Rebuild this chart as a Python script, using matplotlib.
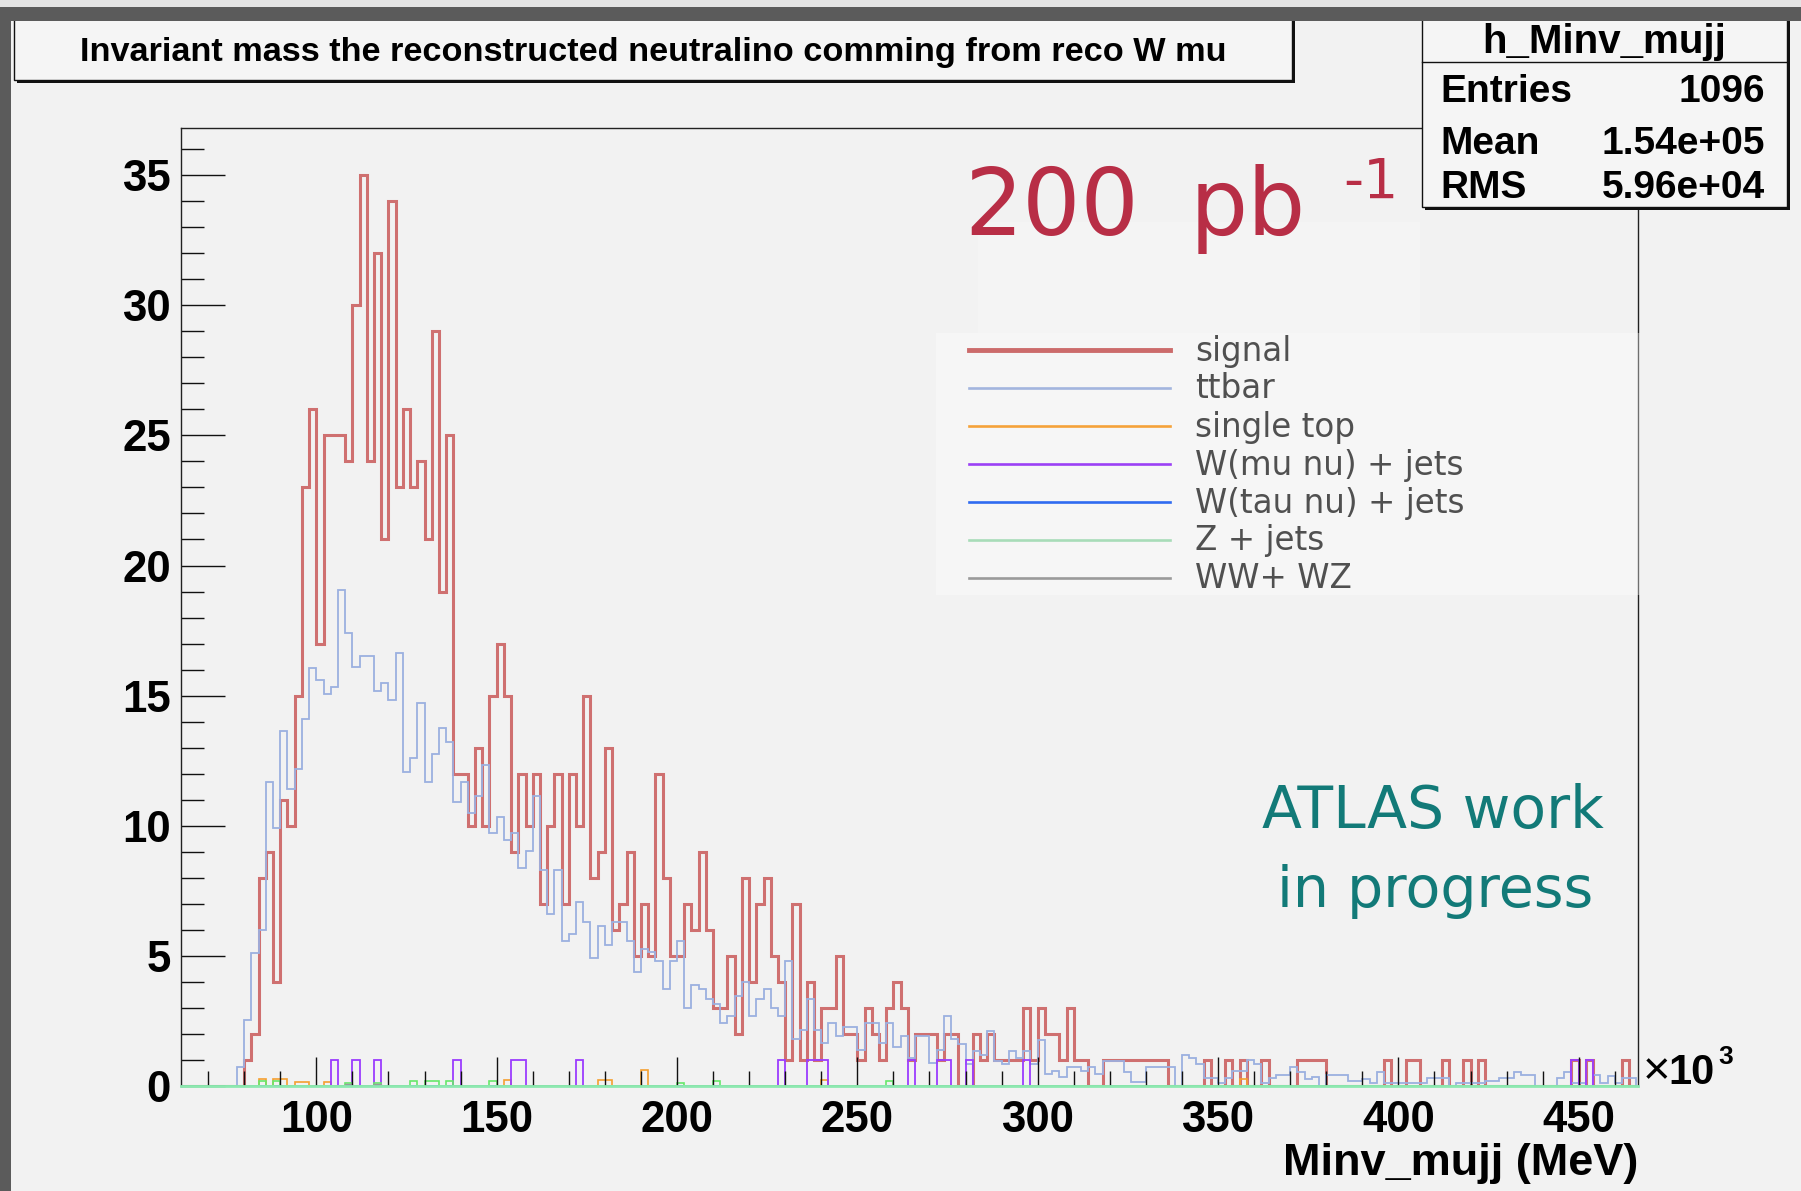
import numpy as np
import matplotlib
matplotlib.use("Agg")
import matplotlib.pyplot as plt
from matplotlib.patches import Rectangle
from matplotlib.lines import Line2D
from matplotlib.ticker import MultipleLocator, FixedLocator

# ---------------- data (x in units of 10^3 MeV, 2 GeV bins) ----------------
FIRST_EDGE = 62
BIN_WIDTH = 2
N_BINS = 202

signal_start = 80
signal = [1, 2, 8, 9, 4, 11, 10, 15, 23, 26,
          17, 25, 25, 25, 24, 30, 35, 24, 32, 21,
          34, 23, 26, 23, 24, 21, 29, 19, 25, 12,
          12, 10, 13, 10, 15, 17, 15, 9, 12, 10,
          12, 7, 10, 12, 7, 12, 10, 15, 8, 9,
          13, 6, 7, 9, 5, 7, 5, 12, 8, 5,
          5, 7, 6, 9, 6, 3, 3, 5, 2, 8,
          4, 7, 8, 5, 4, 1, 7, 1, 4, 1,
          3, 3, 5, 2, 2, 1, 3, 2, 1, 3,
          4, 3, 1, 2, 2, 2, 1, 2, 2, 0,
          0, 2, 1, 2, 1, 1, 1, 1, 3, 1,
          3, 2, 2, 1, 3, 1, 1, 0, 0, 1,
          1, 1, 1, 1, 1, 1, 1, 1, 0, 0,
          0, 0, 0, 1, 0, 0, 1, 0, 1, 0,
          0, 1, 0, 0, 0, 0, 1, 1, 1, 1,
          0, 0, 0, 0, 0, 0, 0, 0, 1, 0,
          0, 1, 1, 0, 0, 0, 1, 0, 0, 1,
          0, 1, 0, 0, 0, 0, 0, 0, 0, 0,
          0, 0, 0, 0, 1, 0, 1, 0, 0, 0,
          0, 1, 0]

ttbar_start = 78
ttbar = [0.74, 2.55, 5.12, 5.99, 11.69, 9.9, 13.65, 11.42, 12.18, 14.12,
         16.06, 15.6, 15.06, 15.33, 19.07, 17.41, 16.09, 16.52, 16.52, 15.17,
         15.47, 14.82, 16.64, 12.06, 12.6, 14.7, 11.69, 12.74, 13.77, 13.2,
         10.91, 11.69, 10.5, 11.15, 12.33, 9.74, 10.34, 9.45, 9.74, 8.39,
         9.04, 11.15, 8.29, 6.59, 8.29, 5.56, 5.83, 7.07, 6.32, 4.92,
         6.16, 5.42, 6.3, 6.3, 5.56, 4.37, 5.26, 5.15, 4.79, 3.74,
         4.79, 5.56, 2.99, 3.87, 3.74, 3.33, 3.16, 2.41, 2.68, 3.44,
         4.0, 2.68, 3.33, 3.74, 2.99, 2.68, 4.79, 1.81, 2.14, 3.33,
         2.14, 1.65, 2.41, 1.91, 2.28, 2.28, 1.37, 2.41, 2.41, 1.65,
         2.41, 1.51, 1.91, 1.08, 1.91, 1.91, 0.88, 1.37, 2.68, 1.8,
         1.63, 0.86, 1.34, 1.19, 2.1, 0.96, 0.86, 1.34, 1.09, 1.34,
         0.83, 1.75, 0.45, 0.58, 0.35, 0.73, 0.73, 0.58, 0.73, 0.45,
         0.96, 0.96, 0.96, 0.55, 0.15, 0.15, 0.73, 0.73, 0.73, 0.73,
         0.0, 1.19, 1.09, 0.83, 0.32, 0.32, 0.13, 0.3, 0.58, 0.58,
         0.99, 0.83, 0.13, 0.32, 0.42, 0.42, 0.73, 0.55, 0.26, 0.35,
         0.0, 0.42, 0.42, 0.42, 0.2, 0.2, 0.26, 0.13, 0.55, 0.13,
         0.13, 0.13, 0.13, 0.13, 0.13, 0.3, 0.3, 0.3, 0.0, 0.13,
         0.13, 0.13, 0.13, 0.2, 0.2, 0.32, 0.32, 0.55, 0.42, 0.42,
         0.0, 0.0, 0.0, 0.3, 0.55, 0.13, 0.13, 0.0, 0.42, 0.13,
         0.4, 0.13, 0.3, 0.3]

singletop_bins = [84, 88, 90, 94, 96, 102, 152, 178, 180, 190, 240, 356]
singletop_vals = [0.26, 0.26, 0.26, 0.15, 0.15, 0.15, 0.23, 0.23, 0.23, 0.6, 0.23, 0.26]

wmunu_bins = [104, 110, 116, 138, 154, 156, 172, 228, 236, 238, 240, 264, 272, 274, 280, 296, 448, 452]
wmunu_vals = [1] * len(wmunu_bins)

wtaunu_bins = []
wtaunu_vals = []

zjets_bins = [84, 88, 108, 116, 126, 130, 132, 136, 148, 200, 210, 258]
zjets_vals = [0.2, 0.2, 0.1, 0.1, 0.2, 0.2, 0.2, 0.2, 0.2, 0.1, 0.2, 0.2]

wwwz_bins = [108, 116]
wwwz_vals = [0.08, 0.08]

labels = ["signal", "ttbar", "single top", "W(mu nu) + jets", "W(tau nu) + jets", "Z + jets", "WW+ WZ"]
colors = ["#cf7070", "#9bb0e0", "#f5a030", "#9b3cff", "#2f6bf0", "#66e86a", "#9a9a9a"]
legend_colors = ["#cc6b6b", "#a3b5de", "#f5a23a", "#9b40f5", "#2f6bf0", "#a8dcb8", "#9a9a9a"]
xticks = [100, 150, 200, 250, 300, 350, 400, 450]
yticks = [0, 5, 10, 15, 20, 25, 30, 35]

edges = FIRST_EDGE + BIN_WIDTH * np.arange(N_BINS + 1)


def dense(start, vals):
    arr = np.zeros(N_BINS)
    i0 = (start - FIRST_EDGE) // BIN_WIDTH
    arr[i0:i0 + len(vals)] = vals
    return arr


def sparse(bins, vals):
    arr = np.zeros(N_BINS)
    for b, v in zip(bins, vals):
        arr[(b - FIRST_EDGE) // BIN_WIDTH] = v
    return arr


series = [dense(signal_start, signal), dense(ttbar_start, ttbar),
          sparse(singletop_bins, singletop_vals), sparse(wmunu_bins, wmunu_vals),
          sparse(wtaunu_bins, wtaunu_vals), sparse(zjets_bins, zjets_vals),
          sparse(wwwz_bins, wwwz_vals)]
widths = [2.2, 1.3, 1.2, 1.3, 1.2, 1.2, 1.0]

# ---------------- figure ----------------
W, H = 1801, 1191
BG = "#f2f2f2"
FONT = "Liberation Sans"
HAND = "DejaVu Sans"
fig = plt.figure(figsize=(W / 100, H / 100), dpi=100, facecolor=BG)


def fx(x):
    return x / W


def fy(y):
    return 1 - y / H


ax_l, ax_r, ax_t, ax_b = 180.7, 1637.5, 128.3, 1086.0
ax = fig.add_axes([fx(ax_l), fy(ax_b), (ax_r - ax_l) / W, (ax_b - ax_t) / H])
ax.set_facecolor(BG)

for vals, c, lw in zip(series, colors, widths):
    ax.stairs(vals, edges, baseline=0, color=c, linewidth=lw)

ax.set_xlim(62.4, 466.3)
ax.set_ylim(0, 36.8)

ax.xaxis.set_major_locator(FixedLocator(xticks))
ax.xaxis.set_minor_locator(MultipleLocator(10))
ax.yaxis.set_major_locator(FixedLocator(yticks))
ax.yaxis.set_minor_locator(MultipleLocator(1))
ax.tick_params(axis="x", which="major", direction="in", length=21, width=1.0,
               pad=10, labelsize=31.5, top=False, color="#111111")
ax.tick_params(axis="x", which="minor", direction="in", length=10.5, width=1.0,
               top=False, color="#111111")
ax.tick_params(axis="y", which="major", direction="in", length=32, width=1.0,
               pad=7, labelsize=31.5, right=False, color="#111111")
ax.tick_params(axis="y", which="minor", direction="in", length=16.5, width=1.0,
               right=False, color="#111111")
for lab in ax.get_xticklabels() + ax.get_yticklabels():
    lab.set_fontfamily(FONT)
    lab.set_fontweight("bold")

for s in ["left", "top", "right"]:
    ax.spines[s].set_color("#222222")
    ax.spines[s].set_linewidth(1.0)
ax.spines["bottom"].set_color("#8de8b0")
ax.spines["bottom"].set_linewidth(2.0)


def add_rect(x0, y0, x1, y1, **kw):
    r = Rectangle((fx(x0), fy(y1)), (x1 - x0) / W, (y1 - y0) / H,
                  transform=fig.transFigure, **kw)
    fig.add_artist(r)
    return r


# x10^3 and x label
fig.text(fx(1643), fy(1084), "\u00d7", fontfamily=FONT, fontsize=34,
         ha="left", va="baseline")
fig.text(fx(1668), fy(1084), "10", fontfamily=FONT, fontweight="bold",
         fontsize=30, ha="left", va="baseline")
fig.text(fx(1718), fy(1064), "3", fontfamily=FONT, fontweight="bold",
         fontsize=19, ha="left", va="baseline")
fig.text(fx(1638), fy(1175), "Minv_mujj (MeV)", fontfamily=FONT, fontweight="bold",
         fontsize=32.5, ha="right", va="baseline")

# lighter overlay boxes (legend / label area)
add_rect(978, 222, 1420, 333, facecolor="white", alpha=0.18, edgecolor="none", zorder=1)
add_rect(936, 333, 1640, 595, facecolor="white", alpha=0.35, edgecolor="none", zorder=1)

# legend
for i, (lab, c) in enumerate(zip(labels, legend_colors)):
    yy = 350 + 38 * i
    fig.add_artist(Line2D([fx(968.7), fx(1169.6)], [fy(yy), fy(yy)], transform=fig.transFigure,
                          color=c, linewidth=3.5 if i == 0 else 1.9, zorder=3))
    fig.text(fx(1195), fy(yy + 1), lab, fontfamily=HAND, fontsize=23.5, color="#505050",
             ha="left", va="center", zorder=3)

# hand-written style annotations
RED = "#b82e46"
fig.text(fx(964), fy(235), "200", fontfamily=HAND, fontsize=66, color=RED,
         ha="left", va="baseline", zorder=3)
fig.text(fx(1190), fy(235), "pb", fontfamily=HAND, fontsize=66, color=RED,
         ha="left", va="baseline", zorder=3)
fig.text(fx(1343), fy(198), "-1", fontfamily=HAND, fontsize=40, color=RED,
         ha="left", va="baseline", zorder=3)
TEAL = "#127a78"
fig.text(fx(1433), fy(828), "ATLAS work", fontfamily=HAND, fontsize=42, color=TEAL,
         ha="center", va="baseline", zorder=3)
fig.text(fx(1435), fy(906.7), "in progress", fontfamily=HAND, fontsize=41, color=TEAL,
         ha="center", va="baseline", zorder=3)

# title box
add_rect(17, 14, 1295, 83, facecolor="#111111", edgecolor="none", zorder=4)
add_rect(13.8, 12, 1292, 80, facecolor="#f5f5f5", edgecolor="#111111", linewidth=1.0, zorder=4)
fig.text(fx(653.5), fy(52), "Invariant mass the reconstructed neutralino comming from reco W mu",
         fontfamily=FONT, fontweight="bold", fontsize=24.7, ha="center", va="center", zorder=5)

# stats box
add_rect(1425, 14, 1790, 210, facecolor="#111111", edgecolor="none", zorder=4)
add_rect(1421.7, 12, 1786.7, 206.7, facecolor="#f5f5f5", edgecolor="#111111", linewidth=1.0, zorder=4)
fig.add_artist(Line2D([fx(1421.7), fx(1786.7)], [fy(62), fy(62)], transform=fig.transFigure,
                      color="#111111", linewidth=1.0, zorder=5))
fig.text(fx(1604), fy(42), "h_Minv_mujj", fontfamily=FONT, fontweight="bold", fontsize=29,
         ha="center", va="center", zorder=5)
for name, val, yy in [("Entries", "1096", 92.5), ("Mean", "1.54e+05", 143.5), ("RMS", "5.96e+04", 188.5)]:
    fig.text(fx(1440), fy(yy), name, fontfamily=FONT, fontweight="bold", fontsize=28,
             ha="left", va="center", zorder=5)
    fig.text(fx(1765), fy(yy), val, fontfamily=FONT, fontweight="bold", fontsize=28,
             ha="right", va="center", zorder=5)

# screenshot frame (top band, left strip)
add_rect(0, 0, W, 7, facecolor="#e4e4e4", edgecolor="none", zorder=6)
add_rect(0, 7, W, 20.7, facecolor="#5b5b5b", edgecolor="none", zorder=6)
add_rect(0, 7, 10.7, H, facecolor="#5b5b5b", edgecolor="none", zorder=6)

fig.savefig("out.png", dpi=100, facecolor=BG)
